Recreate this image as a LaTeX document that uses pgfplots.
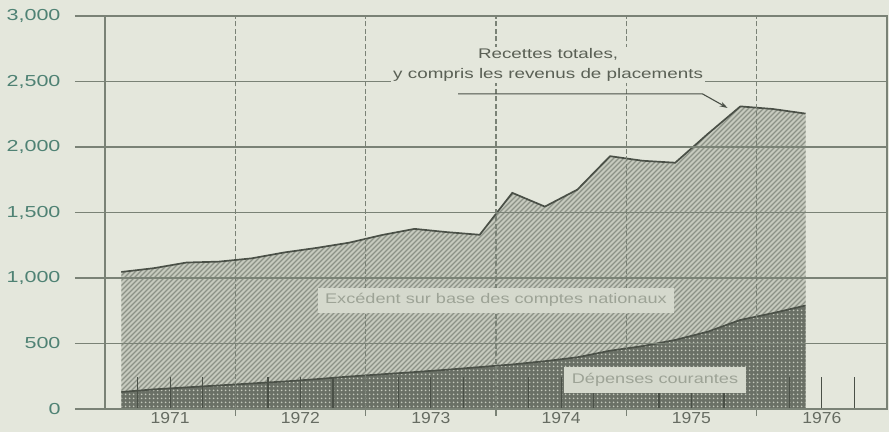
\documentclass[border=0pt]{standalone}
\usepackage{fontspec}
\setmainfont{Liberation Sans}
\newfontfamily\tickfont{Liberation Sans}[FakeStretch=1.35]
\newfontfamily\yearfont{Liberation Sans}[FakeStretch=1.1]
\newfontfamily\annfont{Liberation Sans}[FakeStretch=1.35]
\newfontfamily\boxfont{Liberation Sans}[FakeStretch=1.3]
\usepackage{pgfplots}
\pgfplotsset{compat=1.18}
\usetikzlibrary{patterns,arrows.meta}

\pgfdeclarepatternformonly{widehatch}{\pgfqpoint{-1bp}{-1bp}}{\pgfqpoint{6bp}{6bp}}{\pgfqpoint{5bp}{5bp}}{%
  \pgfsetlinewidth{1.1bp}%
  \pgfpathmoveto{\pgfqpoint{0bp}{0bp}}%
  \pgfpathlineto{\pgfqpoint{5.1bp}{5.1bp}}%
  \pgfusepath{stroke}}
\pgfdeclarepatternformonly{holes}{\pgfqpoint{0bp}{0bp}}{\pgfqpoint{4bp}{4bp}}{\pgfqpoint{4bp}{4bp}}{%
  \pgfpathcircle{\pgfqpoint{2bp}{2bp}}{1.15bp}%
  \pgfusepath{fill}}

\definecolor{bg}{HTML}{E4E7DC}
\definecolor{gridc}{HTML}{7A8276}
\definecolor{linec}{HTML}{4A5047}
\definecolor{hatchbase}{HTML}{C6CABE}
\definecolor{hatchline}{HTML}{8C9287}
\definecolor{dotbase}{HTML}{6A7066}
\definecolor{dotc}{HTML}{C4C8BC}
\definecolor{ytc}{HTML}{4F8274}
\definecolor{xtc}{HTML}{666C62}
\definecolor{annc}{HTML}{5A6055}
\definecolor{boxc}{HTML}{D5D9CD}
\definecolor{boxtext}{HTML}{9DA396}

% x = years since start of 1971
\pgfplotstableread{
x     rec   dep
0.125 1046 130
0.375 1075 150
0.625 1118 165
0.875 1125 180
1.125 1150 195
1.375 1195 210
1.625 1230 228
1.875 1270 248
2.125 1328 265
2.375 1375 282
2.625 1350 300
2.875 1330 320
3.125 1650 340
3.375 1545 365
3.625 1675 395
3.875 1930 445
4.125 1895 480
4.375 1880 527
4.625 2100 590
4.875 2310 680
5.125 2290 732
5.375 2255 790
}\data

\begin{document}
\begin{tikzpicture}
\path[use as bounding box, fill=bg] (-105bp,-23bp) rectangle (784bp,409bp);
\begin{axis}[
  at={(0,0)}, anchor=south west,
  scale only axis, width=782bp, height=393bp,
  xmin=0, xmax=6, ymin=0, ymax=3000,
  clip=false,
  axis on top,
  axis line style={gridc, line width=1.2bp},
  ytick={0,500,...,3000},
  yticklabels={0,500,{1,000},{1,500},{2,000},{2,500},{3,000}},
  ymajorgrids, major grid style={gridc, line width=1.1bp},
  tick align=outside, major tick length=30bp,
  ytick pos=left,
  y tick style={gridc, line width=1.1bp},
  yticklabel style={font=\tickfont\fontsize{16}{16}\selectfont, text=ytc, xshift=-11bp},
  xtick={0.5,1.5,...,5.5},
  xticklabels={1971,1972,1973,1974,1975,1976},
  x tick style={draw=none},
  xticklabel style={font=\yearfont\fontsize{16}{16}\selectfont, text=xtc, yshift=30bp},
]
\addplot[draw=none, fill=hatchbase, postaction={pattern=widehatch, pattern color=hatchline}] table[x=x,y=rec]{\data} \closedcycle;
\addplot[draw=none, fill=dotbase, postaction={pattern=holes, pattern color=dotc}] table[x=x,y=dep]{\data} \closedcycle;
\addplot[ycomb, no markers, draw=linec, line width=1.2bp] coordinates {
(0.25,245) (0.5,245) (0.75,245)
(1.25,245) (1.5,245) (1.75,245)
(2.25,245) (2.5,245) (2.75,245)
(3.25,245) (3.5,245) (3.75,245)
(4.25,245) (4.5,245) (4.75,245)
(5.25,245) (5.5,245) (5.75,245)};
\addplot[linec, line width=1.7bp, no markers] table[x=x,y=rec]{\data};
\addplot[linec, line width=1.7bp, no markers] table[x=x,y=dep]{\data};
\pgfplotsinvokeforeach{1,2,3,4,5}{
  \draw[gridc, line width=1.1bp, dash pattern=on 5bp off 2.5bp] (axis cs:#1,0) -- (axis cs:#1,3000);
  \draw[gridc, line width=1.1bp] (axis cs:#1,0) -- (axis cs:#1,-53);
}
\coordinate (recT) at (axis cs:3.4,2626);
\coordinate (exc) at (axis cs:3.0,832);
\coordinate (depT) at (axis cs:4.22,221);
\coordinate (a1) at (axis cs:2.71,2405);
\coordinate (a2) at (axis cs:4.585,2405);
\coordinate (a3) at (axis cs:4.777,2298);
\end{axis}
\node[fill=bg, inner sep=2bp, align=center, text=annc,
      font=\annfont\fontsize{14}{20}\selectfont] at (recT)
  {Recettes totales,\\y compris les revenus de placements};
\draw[linec, line width=1.1bp, -{Stealth[length=8bp,width=5bp]}] (a1) -- (a2) -- (a3);
\node[fill=boxc, inner xsep=7bp, minimum height=25bp, text=boxtext,
      font=\boxfont\fontsize{14}{16}\selectfont] at (exc)
  {Excédent sur base des comptes nationaux};
\node[fill=boxc, inner xsep=8bp, minimum height=26bp, text=boxtext,
      font=\boxfont\fontsize{14}{16}\selectfont] at (depT)
  {Dépenses courantes};
\end{tikzpicture}
\end{document}
